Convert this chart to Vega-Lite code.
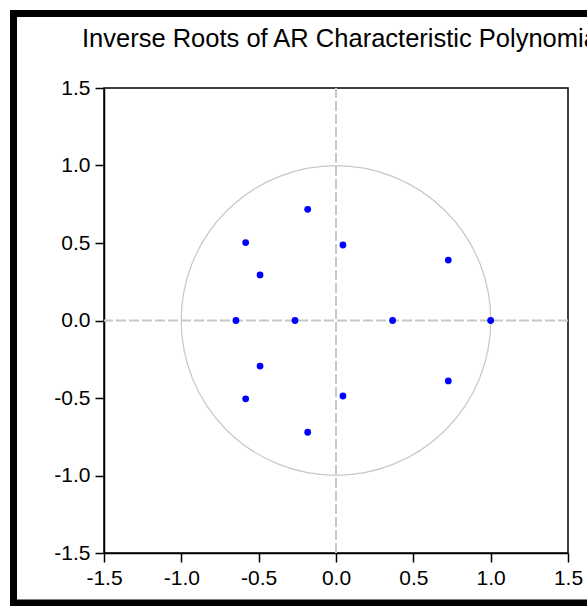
{
  "$schema": "https://vega.github.io/schema/vega-lite/v6.json",
  "width": 464,
  "height": 465,
  "autosize": {"type": "none"},
  "padding": {"left": 104, "top": 88, "right": 19, "bottom": 53},
  "background": "white",
  "title": {
    "text": "Inverse Roots of AR Characteristic Polynomial",
    "anchor": "start",
    "frame": "group",
    "dx": -22,
    "font": "Liberation Sans",
    "fontSize": 25.5,
    "fontWeight": "normal",
    "color": "black",
    "baseline": "alphabetic",
    "offset": -63
  },
  "config": {
    "view": {"stroke": "black", "strokeWidth": 1.5},
    "axis": {
      "grid": false,
      "title": null,
      "labelFont": "Liberation Sans",
      "labelFontSize": 21,
      "labelColor": "black",
      "labelFlush": false,
      "labelOverlap": false,
      "domainColor": "black",
      "domainWidth": 1.5,
      "tickColor": "black",
      "tickWidth": 1.5,
      "tickSize": 9,
      "labelPadding": 5
    }
  },
  "datasets": {
    "roots": [
      {"re": -0.183, "im": 0.717},
      {"re": -0.183, "im": -0.721},
      {"re": 0.045, "im": 0.487},
      {"re": 0.045, "im": -0.487},
      {"re": -0.584, "im": 0.503},
      {"re": -0.584, "im": -0.505},
      {"re": -0.491, "im": 0.294},
      {"re": -0.491, "im": -0.294},
      {"re": 0.726, "im": 0.39},
      {"re": 0.726, "im": -0.39},
      {"re": -0.647, "im": 0.0},
      {"re": -0.265, "im": 0.0},
      {"re": 0.366, "im": 0.0},
      {"re": 1.0, "im": 0.0}
    ]
  },
  "layer": [
    {
      "data": {"values": [{}]},
      "mark": {"type": "rule", "color": "#c8c8c8", "strokeWidth": 2, "strokeDash": [10, 3]},
      "encoding": {
        "x": {"datum": 0, "type": "quantitative", "scale": {"domain": [-1.5, 1.5], "nice": false, "zero": false}, "axis": {"values": [-1.5, -1, -0.5, 0, 0.5, 1, 1.5], "labelExpr": "datum.value < 0 ? '-' + format(-datum.value, '.1f') : format(datum.value, '.1f')"}}
      }
    },
    {
      "data": {"values": [{}]},
      "mark": {"type": "rule", "color": "#c8c8c8", "strokeWidth": 2, "strokeDash": [10, 3]},
      "encoding": {
        "y": {"datum": 0, "type": "quantitative", "scale": {"domain": [-1.5, 1.5], "nice": false, "zero": false}, "axis": {"values": [-1.5, -1, -0.5, 0, 0.5, 1, 1.5], "labelExpr": "datum.value < 0 ? '-' + format(-datum.value, '.1f') : format(datum.value, '.1f')"}}
      }
    },
    {
      "data": {"values": [{}]},
      "mark": {"type": "point", "shape": "circle", "filled": false, "stroke": "#c8c8c8", "strokeWidth": 1.2, "opacity": 1, "size": 95852},
      "encoding": {
        "x": {"datum": 0, "type": "quantitative", "scale": {"domain": [-1.5, 1.5], "nice": false, "zero": false}, "axis": {"values": [-1.5, -1, -0.5, 0, 0.5, 1, 1.5], "labelExpr": "datum.value < 0 ? '-' + format(-datum.value, '.1f') : format(datum.value, '.1f')"}},
        "y": {"datum": 0, "type": "quantitative", "scale": {"domain": [-1.5, 1.5], "nice": false, "zero": false}, "axis": {"values": [-1.5, -1, -0.5, 0, 0.5, 1, 1.5], "labelExpr": "datum.value < 0 ? '-' + format(-datum.value, '.1f') : format(datum.value, '.1f')"}}
      }
    },
    {
      "data": {"name": "roots"},
      "mark": {"type": "point", "shape": "circle", "filled": true, "color": "#0000ff", "opacity": 1, "size": 46},
      "encoding": {
        "x": {"field": "re", "type": "quantitative", "scale": {"domain": [-1.5, 1.5], "nice": false, "zero": false}, "axis": {"values": [-1.5, -1, -0.5, 0, 0.5, 1, 1.5], "labelExpr": "datum.value < 0 ? '-' + format(-datum.value, '.1f') : format(datum.value, '.1f')"}},
        "y": {"field": "im", "type": "quantitative", "scale": {"domain": [-1.5, 1.5], "nice": false, "zero": false}, "axis": {"values": [-1.5, -1, -0.5, 0, 0.5, 1, 1.5], "labelExpr": "datum.value < 0 ? '-' + format(-datum.value, '.1f') : format(datum.value, '.1f')"}}
      }
    },
    {
      "data": {"values": [{}]},
      "mark": {"type": "rect", "filled": false, "stroke": "black", "strokeWidth": 7, "clip": false},
      "encoding": {
        "x": {"datum": -2.085, "type": "quantitative", "scale": {"domain": [-1.5, 1.5], "nice": false, "zero": false}, "axis": {"values": [-1.5, -1, -0.5, 0, 0.5, 1, 1.5], "labelExpr": "datum.value < 0 ? '-' + format(-datum.value, '.1f') : format(datum.value, '.1f')"}},
        "x2": {"datum": 2.2},
        "y": {"datum": 1.981, "type": "quantitative", "scale": {"domain": [-1.5, 1.5], "nice": false, "zero": false}, "axis": {"values": [-1.5, -1, -0.5, 0, 0.5, 1, 1.5], "labelExpr": "datum.value < 0 ? '-' + format(-datum.value, '.1f') : format(datum.value, '.1f')"}},
        "y2": {"datum": -1.823}
      }
    }
  ]
}
